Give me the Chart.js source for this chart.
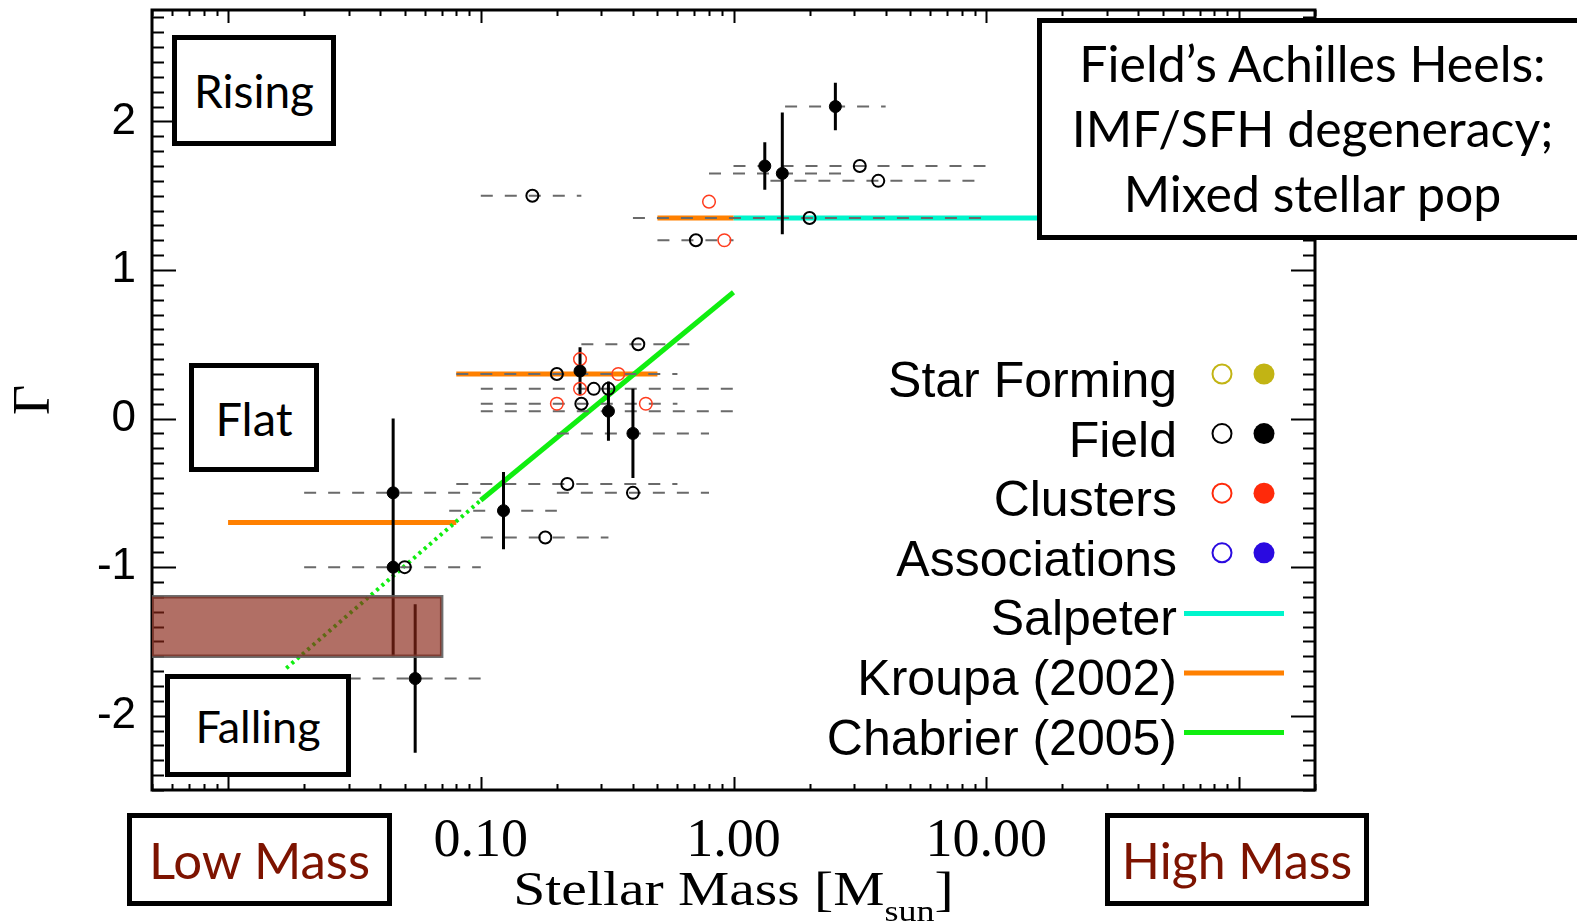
<!DOCTYPE html>
<html>
<head>
<meta charset="utf-8">
<title>IMF slope versus stellar mass</title>
<script src="https://cdn.jsdelivr.net/npm/chart.js@4/dist/chart.umd.min.js"></script>
<style>
  html, body { margin: 0; padding: 0; background: #fff; overflow: hidden; }
  #wrap { position: relative; width: 1577px; height: 924px; overflow: hidden; background: #fff; }
  #c { position: absolute; left: 0; top: 0; }
  .box {
    position: absolute; box-sizing: border-box; border: 5px solid #000; background: #fff;
    display: flex; align-items: center; justify-content: center;
    font-family: Lato, "Open Sans", sans-serif; color: #000; white-space: nowrap;
  }
  .stack { flex-direction: column; justify-content: flex-start; line-height: 65px; padding-top: 8px; }
  .mass { color: #7d1300; }
  #xtitle {
    position: absolute; left: 0; width: 1466px; top: 864px; text-align: center;
    font-family: "Liberation Serif", serif; font-size: 48px; line-height: 50px; color: #000;
    white-space: nowrap;
  }
  #xtitle span.inner { display: inline-block; transform: scaleX(1.2); transform-origin: center; }
  #xtitle .sub { font-size: 30px; position: relative; top: 16px; }
</style>
</head>
<body>
<div id="wrap">
  <canvas id="c" width="1577" height="924"></canvas>

  <div class="box" style="left:172px; top:35px; width:164px; height:111px; font-size:46px;">Rising</div>
  <div class="box" style="left:189px; top:363px; width:130px; height:109px; font-size:47px;">Flat</div>
  <div class="box" style="left:165px; top:674px; width:186px; height:103px; font-size:45px;">Falling</div>
  <div class="box stack" style="left:1037px; top:18px; width:551px; height:222px; font-size:50px;">
    <div>Field’s Achilles Heels:</div>
    <div>IMF/SFH degeneracy;</div>
    <div>Mixed stellar pop</div>
  </div>
  <div class="box mass" style="left:127px; top:813px; width:265px; height:93px; font-size:51px;">Low Mass</div>
  <div class="box mass" style="left:1105px; top:813px; width:264px; height:93px; font-size:50px;">High Mass</div>
  <div id="xtitle"><span class="inner">Stellar Mass [M<span class="sub">sun</span>]</span></div>
</div>

<script>
// ---------------- measurements ----------------
// Field IMF slopes with error bars (filled symbols)
const fieldFilledMass  = [2.53, 1.33, 1.56, 0.247, 0.32, 0.40, 0.123, 0.045, 0.045, 0.055];
const fieldFilledGamma = [2.10, 1.70, 1.65, 0.32, 0.05, -0.10, -0.62, -0.50, -1.00, -1.75];
const fieldFilledErr   = [0.16, 0.16, 0.41, 0.16, 0.20, 0.30, 0.26, 0.50, 0.60, 0.50];

// Field IMF slopes without error estimates (open symbols)
const fieldOpenMass  = [3.16, 3.74, 2.0, 0.71, 0.16, 0.42, 0.20, 0.28, 0.32, 0.25, 0.22, 0.40, 0.18, 0.05];
const fieldOpenGamma = [1.70, 1.60, 1.35, 1.20, 1.50, 0.50, 0.30, 0.20, 0.20, 0.10, -0.44, -0.50, -0.80, -1.00];

// Cluster IMF slopes (open symbols)
const clusterOpenMass  = [0.80, 0.92, 0.247, 0.35, 0.247, 0.20, 0.45];
const clusterOpenGamma = [1.46, 1.20, 0.40, 0.30, 0.20, 0.10, 0.10];

// Mass interval over which each slope was fitted
const rangeGamma = [2.10, 1.70, 1.65, 1.60, 1.50, 1.35, 1.20, 0.50, 0.30, 0.20, 0.10, 0.05, -0.10, -0.44, -0.50, -0.50, -0.62, -0.80, -1.00, -1.75];
const rangeLow   = [1.6, 1.0, 0.8, 1.4, 0.1, 0.4, 0.5, 0.25, 0.08, 0.1, 0.1, 0.1, 0.2, 0.08, 0.02, 0.2, 0.075, 0.1, 0.02, 0.03];
const rangeHigh  = [4.0, 10.0, 2.7, 9.2, 0.25, 9.6, 1.0, 0.67, 0.6, 1.0, 0.6, 1.0, 0.8, 0.6, 0.1, 0.8, 0.2, 0.32, 0.1, 0.1];

// ---------------- reference IMFs ----------------
const salpeterMass  = [1.0, 100];
const salpeterGamma = [1.35, 1.35];
const kroupaLow   = [0.01, 0.08, 0.5];
const kroupaHigh  = [0.08, 0.5, 1.0];
const kroupaGamma = [-0.70, 0.30, 1.35];
const chabrierMass     = [0.1, 1.0];
const chabrierGamma    = [-0.55, 0.85];
const chabrierExtMass  = [0.017, 0.1];
const chabrierExtGamma = [-1.68, -0.55];

// Low-mass band
const bandMass  = [0.005, 0.07];
const bandGamma = [-1.6, -1.2];

// ---------------- axes ----------------
const xTickValues = [0.1, 1, 10];
const xTickLabels = ['0.10', '1.00', '10.00'];
const yTickValues = [-2, -1, 0, 1, 2];
const yTickLabels = ['-2', '-1', '0', '1', '2'];

// ---------------- legend ----------------
const legendLabels = ['Star Forming', 'Field', 'Clusters', 'Associations', 'Salpeter', 'Kroupa (2002)', 'Chabrier (2005)'];
const legendColors = ['#c2b414', '#000000', '#ff2a0a', '#2a0ae0', '#00f5cc', '#ff8000', '#10ee10'];
const legendKinds  = ['pts', 'pts', 'pts', 'pts', 'line', 'line', 'line'];

// Build a broken polyline from [x0, y0, x1, y1] segments
function segments(list) {
  const pts = [];
  list.forEach(([x0, y0, x1, y1]) => {
    pts.push({x: x0, y: y0}, {x: x1, y: y1}, {x: x1, y: null});
  });
  return pts;
}

const rangeSegs = rangeGamma.map((g, i) => [rangeLow[i], g, rangeHigh[i], g]);
const errSegs = fieldFilledMass.map((m, i) => [m, fieldFilledGamma[i] - fieldFilledErr[i], m, fieldFilledGamma[i] + fieldFilledErr[i]]);
const kroupaSegs = kroupaGamma.map((g, i) => [kroupaLow[i], g, kroupaHigh[i], g]);
const pairs = (xs, ys) => xs.map((x, i) => ({x, y: ys[i]}));

// Frame with inward tick marks on all four sides
const frame = {
  id: 'frame',
  beforeDatasetsDraw(chart) {
    const {ctx, chartArea: a, scales: {x, y}} = chart;
    ctx.save();
    ctx.strokeStyle = '#000';
    ctx.lineWidth = 2;
    ctx.beginPath();
    for (let i = -25; i <= 27; i++) {
      const py = Math.round(y.getPixelForValue(i / 10)) + 0.5;
      const len = i % 10 === 0 ? 24 : 12;
      ctx.moveTo(a.left, py); ctx.lineTo(a.left + len, py);
      ctx.moveTo(a.right, py); ctx.lineTo(a.right - len, py);
    }
    for (let e = -3; e <= 2; e++) {
      for (let k = 1; k <= 9; k++) {
        const v = k * Math.pow(10, e);
        if (v < x.min || v > x.max) continue;
        const px = Math.round(x.getPixelForValue(v)) + 0.5;
        const len = k === 1 ? 13 : 6;
        ctx.moveTo(px, a.bottom); ctx.lineTo(px, a.bottom - len);
        ctx.moveTo(px, a.top); ctx.lineTo(px, a.top + len);
      }
    }
    ctx.stroke();
    ctx.lineWidth = 3;
    ctx.strokeRect(a.left, a.top, a.right - a.left, a.bottom - a.top);
    ctx.restore();
  }
};

// Legend: right-aligned names followed by symbols
const legendBlock = {
  id: 'legendBlock',
  afterDatasetsDraw(chart) {
    const ctx = chart.ctx;
    ctx.save();
    ctx.font = '50px "Liberation Sans", Arial, sans-serif';
    ctx.textAlign = 'right';
    ctx.textBaseline = 'alphabetic';
    legendLabels.forEach((label, i) => {
      const base = 397 + i * 59.6;
      const c = legendColors[i];
      ctx.fillStyle = '#000';
      ctx.fillText(label, 1177, base);
      if (legendKinds[i] === 'pts') {
        const cy = base - 23;
        ctx.lineWidth = 2;
        ctx.strokeStyle = c;
        ctx.beginPath(); ctx.arc(1222, cy, 9.5, 0, 2 * Math.PI); ctx.stroke();
        ctx.fillStyle = c;
        ctx.beginPath(); ctx.arc(1264, cy, 10.5, 0, 2 * Math.PI); ctx.fill();
      } else {
        ctx.lineWidth = 5;
        ctx.strokeStyle = c;
        ctx.beginPath(); ctx.moveTo(1184, base - 22); ctx.lineTo(1284, base - 22); ctx.stroke();
      }
    });
    ctx.restore();
  }
};

const lineBase = {type: 'line', pointRadius: 0, fill: false, tension: 0, spanGaps: false};

new Chart(document.getElementById('c'), {
  type: 'scatter',
  data: {
    datasets: [
      // degeneracy band (drawn over everything inside the plot)
      Object.assign({}, lineBase, {
        order: 0,
        data: [{x: bandMass[0], y: bandGamma[0]}, {x: bandMass[1], y: bandGamma[0]}],
        borderWidth: 0,
        backgroundColor: 'rgba(136, 36, 21, 0.66)',
        fill: {value: bandGamma[1]}
      }),
      Object.assign({}, lineBase, {
        order: 0,
        data: [
          {x: bandMass[0], y: bandGamma[1]}, {x: bandMass[1], y: bandGamma[1]},
          {x: bandMass[1], y: bandGamma[0]}, {x: bandMass[0], y: bandGamma[0]},
          {x: bandMass[0], y: bandGamma[1]}
        ],
        borderColor: 'rgba(95, 95, 95, 0.9)',
        borderWidth: 3.5
      }),
      {
        order: 1, label: 'Field',
        data: pairs(fieldFilledMass, fieldFilledGamma),
        pointRadius: 6, pointBorderWidth: 1,
        pointBackgroundColor: '#000', pointBorderColor: '#000'
      },
      {
        order: 2, label: 'Field (open)',
        data: pairs(fieldOpenMass, fieldOpenGamma),
        pointRadius: 6, pointBorderWidth: 2,
        pointBackgroundColor: 'rgba(0,0,0,0)', pointBorderColor: '#000'
      },
      {
        order: 2, label: 'Clusters (open)',
        data: pairs(clusterOpenMass, clusterOpenGamma),
        pointRadius: 6.3, pointBorderWidth: 1.5,
        pointBackgroundColor: 'rgba(0,0,0,0)', pointBorderColor: '#ff3c1e'
      },
      Object.assign({}, lineBase, {
        order: 3, data: segments(errSegs),
        borderColor: '#000', borderWidth: 3
      }),
      Object.assign({}, lineBase, {
        order: 4, data: segments(rangeSegs),
        borderColor: '#6a6a6a', borderWidth: 2, borderDash: [12, 12]
      }),
      Object.assign({}, lineBase, {
        order: 5, label: 'Chabrier (2005)',
        data: pairs(chabrierMass, chabrierGamma),
        borderColor: '#10ee10', borderWidth: 5
      }),
      Object.assign({}, lineBase, {
        order: 5,
        data: pairs(chabrierExtMass, chabrierExtGamma),
        borderColor: '#10ee10', borderWidth: 4, borderDash: [3, 4]
      }),
      Object.assign({}, lineBase, {
        order: 6, label: 'Kroupa (2002)',
        data: segments(kroupaSegs),
        borderColor: '#ff8000', borderWidth: 5, borderCapStyle: 'butt'
      }),
      Object.assign({}, lineBase, {
        order: 6, label: 'Salpeter',
        data: pairs(salpeterMass, salpeterGamma),
        borderColor: '#00f5cc', borderWidth: 5
      })
    ]
  },
  options: {
    responsive: false,
    animation: false,
    events: [],
    layout: {padding: {top: 10, right: 262, left: 0, bottom: 0}},
    plugins: {legend: {display: false}, tooltip: {enabled: false}},
    scales: {
      x: {
        type: 'logarithmic', min: 0.005, max: 200, bounds: 'data', position: 'bottom',
        grid: {display: false, drawTicks: false},
        border: {display: false},
        ticks: {
          color: '#000', padding: 19, autoSkip: false, maxRotation: 0, minRotation: 0,
          font: {family: '"Liberation Serif", serif', size: 54},
          callback: (v, i) => xTickLabels[i]
        },
        afterBuildTicks: s => { s.ticks = xTickValues.map(v => ({value: v})); },
        afterFit: s => { s.height = 134; s.paddingLeft = 0; s.paddingRight = 0; }
      },
      y: {
        type: 'linear', min: -2.5, max: 2.75, bounds: 'data', position: 'left',
        grid: {display: false, drawTicks: false},
        border: {display: false},
        ticks: {
          color: '#000', padding: 16,
          font: {family: '"Liberation Sans", Arial, sans-serif', size: 44},
          callback: (v, i) => yTickLabels[i]
        },
        title: {
          display: true, text: 'Γ', color: '#000',
          font: {family: '"Liberation Serif", serif', size: 52},
          padding: {top: 4, bottom: 0}
        },
        afterBuildTicks: s => { s.ticks = yTickValues.map(v => ({value: v})); },
        afterFit: s => { s.width = 152; s.paddingTop = 0; s.paddingBottom = 0; }
      }
    }
  },
  plugins: [frame, legendBlock]
});
</script>
</body>
</html>
